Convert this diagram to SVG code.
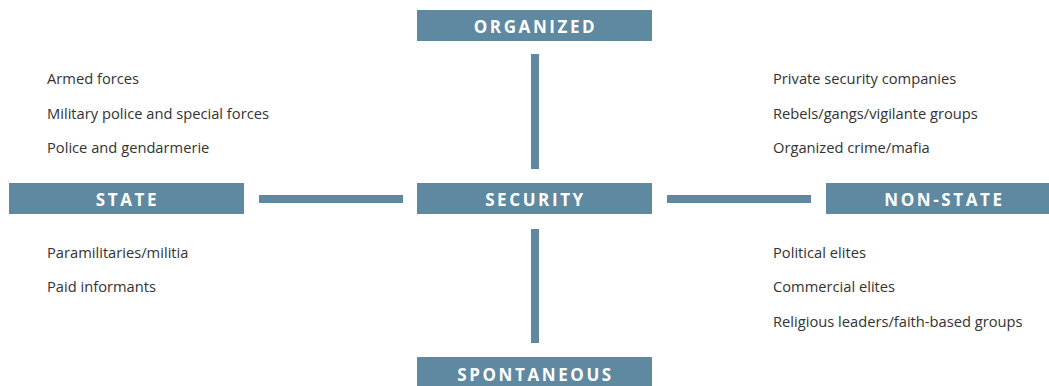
<svg xmlns="http://www.w3.org/2000/svg" width="1049" height="386" viewBox="0 0 1049 386">
<style>
.box{fill:#5f88a1}
.lbl{font-family:"Open Sans","DejaVu Sans",sans-serif;font-weight:700;font-size:17px;letter-spacing:2.6px;fill:#ffffff;text-anchor:middle}
.item{font-family:"Open Sans","Liberation Sans",sans-serif;font-size:14.7px;fill:#333333}
.conn{stroke:#5f88a1;stroke-width:8;fill:none}
</style>
<rect width="1049" height="386" fill="#ffffff"/>
<g id="connectors">
<line class="conn" x1="535" y1="54" x2="535" y2="169"/>
<line class="conn" x1="535" y1="229" x2="535" y2="343"/>
<line class="conn" x1="259" y1="199" x2="403" y2="199"/>
<line class="conn" x1="667" y1="199" x2="811" y2="199"/>
</g>
<g id="organized">
<rect class="box" x="417" y="10" width="235" height="31"/>
<text class="lbl" x="535.5" y="32.5">ORGANIZED</text>
</g>
<g id="state">
<rect class="box" x="9" y="183" width="235" height="31"/>
<text class="lbl" x="127.5" y="205.5">STATE</text>
</g>
<g id="security">
<rect class="box" x="417" y="183" width="235" height="31"/>
<text class="lbl" x="535.5" y="205.5">SECURITY</text>
</g>
<g id="non-state">
<rect class="box" x="826" y="183" width="235" height="31"/>
<text class="lbl" x="944.5" y="205.5">NON-STATE</text>
</g>
<g id="spontaneous">
<rect class="box" x="417" y="357" width="235" height="31"/>
<text class="lbl" x="535.5" y="380.5">SPONTANEOUS</text>
</g>
<g id="state-organized-items">
<text class="item" x="47" y="84">Armed forces</text>
<text class="item" x="47" y="119">Military police and special forces</text>
<text class="item" x="47" y="153">Police and gendarmerie</text>
</g>
<g id="state-spontaneous-items">
<text class="item" x="47" y="258">Paramilitaries/militia</text>
<text class="item" x="47" y="292">Paid informants</text>
</g>
<g id="nonstate-organized-items">
<text class="item" x="773" y="84">Private security companies</text>
<text class="item" x="773" y="119">Rebels/gangs/vigilante groups</text>
<text class="item" x="773" y="153">Organized crime/mafia</text>
</g>
<g id="nonstate-spontaneous-items">
<text class="item" x="773" y="258">Political elites</text>
<text class="item" x="773" y="292">Commercial elites</text>
<text class="item" x="773" y="327">Religious leaders/faith-based groups</text>
</g>
</svg>
